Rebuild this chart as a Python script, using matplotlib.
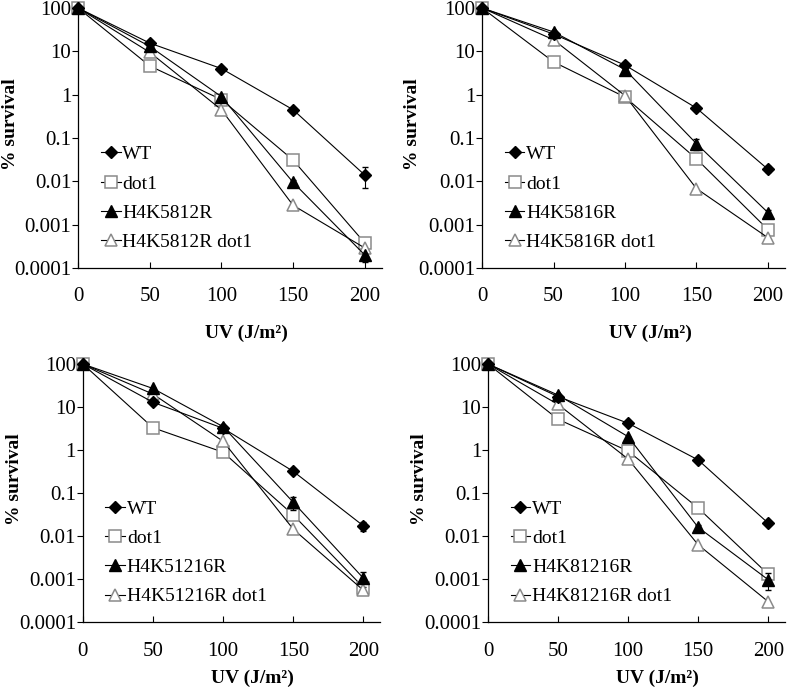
import numpy as np
import matplotlib
matplotlib.use("Agg")
import matplotlib.pyplot as plt
from matplotlib.ticker import FixedLocator, FixedFormatter

plt.rcParams['font.family'] = ['Liberation Serif', 'DejaVu Serif']

# UV dose (J/m2)
dose = [0, 50, 100, 150, 200]

# panel A: H4K5812R
a_labels = ["WT", "dot1", "H4K5812R", "H4K5812R dot1"]
a_wt = [100, 15.5, 4.0, 0.45, 0.014]
a_dot1 = [100, 4.6, 0.77, 0.031, 0.00038]
a_mut = [100, 13, 0.9, 0.0095, 0.0002]
a_mut_dot1 = [100, 9.5, 0.45, 0.0028, 0.00029]
a_wt_err = [0, 0, 0, 0, 0.007]
a_mut_err = [0, 0, 0, 0.001, 0.00006]

# panel B: H4K5816R
b_labels = ["WT", "dot1", "H4K5816R", "H4K5816R dot1"]
b_wt = [100, 25, 4.8, 0.49, 0.019]
b_dot1 = [100, 5.7, 0.88, 0.033, 0.00077]
b_mut = [100, 28, 3.8, 0.074, 0.0019]
b_mut_dot1 = [100, 18.5, 0.95, 0.0068, 0.0005]
b_wt_err = [0, 0, 0, 0, 0.003]
b_mut_err = [0, 0, 0, 0.02, 0.0003]

# panel C: H4K51216R
c_labels = ["WT", "dot1", "H4K51216R", "H4K51216R dot1"]
c_wt = [100, 12.9, 3.2, 0.32, 0.0173]
c_dot1 = [100, 3.3, 0.89, 0.031, 0.00064]
c_mut = [100, 27, 3.5, 0.061, 0.00105]
c_mut_dot1 = [100, 20, 1.6, 0.0145, 0.00055]
c_wt_err = [0, 0, 0, 0, 0.004]
c_mut_err = [0, 0, 0, 0.02, 0.0004]

# panel D: H4K81216R
d_labels = ["WT", "dot1", "H4K81216R", "H4K81216R dot1"]
d_wt = [100, 17.5, 4.2, 0.59, 0.02]
d_dot1 = [100, 5.2, 0.95, 0.045, 0.0013]
d_mut = [100, 19, 2.05, 0.016, 0.00097]
d_mut_dot1 = [100, 11.5, 0.62, 0.0063, 0.0003]
d_wt_err = [0, 0, 0, 0, 0.002]
d_mut_err = [0, 0, 0, 0.002, 0.0004]

yticks = [1e-4, 1e-3, 1e-2, 1e-1, 1, 10, 100]
yticklabels = ["0.0001", "0.001", "0.01", "0.1", "1", "10", "100"]

panels = [
    (a_labels, a_wt, a_dot1, a_mut, a_mut_dot1, a_wt_err, a_mut_err),
    (b_labels, b_wt, b_dot1, b_mut, b_mut_dot1, b_wt_err, b_mut_err),
    (c_labels, c_wt, c_dot1, c_mut, c_mut_dot1, c_wt_err, c_mut_err),
    (d_labels, d_wt, d_dot1, d_mut, d_mut_dot1, d_wt_err, d_mut_err),
]

# axes rectangles in figure fraction, plus label positions (axes fraction)
rects = [
    [0.099, 0.615, 0.385, 0.3735],
    [0.611, 0.615, 0.384, 0.3735],
    [0.105, 0.106, 0.377, 0.371],
    [0.6185, 0.106, 0.3765, 0.371],
]
ylab_pos = [(-0.224, 0.554), (-0.231, 0.554), (-0.229, 0.554), (-0.229, 0.554)]
xlab_pos = [(0.555, -0.252), (0.555, -0.252), (0.57, -0.218), (0.57, -0.218)]

fig = plt.figure(figsize=(7.89, 6.96), dpi=100)
gray = "#8a8a8a"

for rect, yl, xl, (labels, wt, dot1, mut, mut_dot1, wt_err, mut_err) in zip(rects, ylab_pos, xlab_pos, panels):
    ax = fig.add_axes(rect)
    h1 = ax.errorbar(dose, wt, yerr=wt_err, color="black", lw=0.8, marker="D", ms=6,
                     mfc="black", mec="black", capsize=2.5, elinewidth=0.8, clip_on=False)
    h2, = ax.plot(dose, dot1, color="black", lw=0.8, marker="s", ms=9,
                  mfc="white", mec=gray, mew=1.1, clip_on=False)
    h3 = ax.errorbar(dose, mut, yerr=mut_err, color="black", lw=0.8, marker="^", ms=9,
                     mfc="black", mec="black", capsize=2.5, elinewidth=0.8, clip_on=False)
    h4, = ax.plot(dose, mut_dot1, color="black", lw=0.8, marker="^", ms=9,
                  mfc="white", mec=gray, mew=1.1, clip_on=False)

    ax.set_yscale("log")
    ax.set_ylim(1e-4, 100)
    ax.set_xlim(0, 212)
    ax.yaxis.set_major_locator(FixedLocator(yticks))
    ax.yaxis.set_major_formatter(FixedFormatter(yticklabels))
    ax.yaxis.set_minor_locator(FixedLocator([]))
    ax.set_xticks([0, 50, 100, 150, 200])
    ax.tick_params(axis="y", direction="out", length=4, width=0.8, labelsize=15, pad=1)
    ax.tick_params(axis="x", direction="in", length=4, width=0.8, labelsize=15, pad=14)
    for s in ["top", "right"]:
        ax.spines[s].set_visible(False)
    for s in ["left", "bottom"]:
        ax.spines[s].set_linewidth(0.9)

    ax.set_ylabel("% survival", fontsize=14, fontweight="bold", va="center")
    ax.yaxis.set_label_coords(*yl)
    ax.set_xlabel("UV (J/m²)", fontsize=14, fontweight="bold", va="center")
    ax.xaxis.set_label_coords(*xl)

    ax.legend([h1[0], h2, h3[0], h4], labels, loc="lower left", bbox_to_anchor=(0.05, 0.035),
              frameon=False, fontsize=14, handlelength=1.0, handletextpad=0.1,
              labelspacing=0.6, borderaxespad=0, numpoints=1)

fig.savefig("out.png", dpi=100)
